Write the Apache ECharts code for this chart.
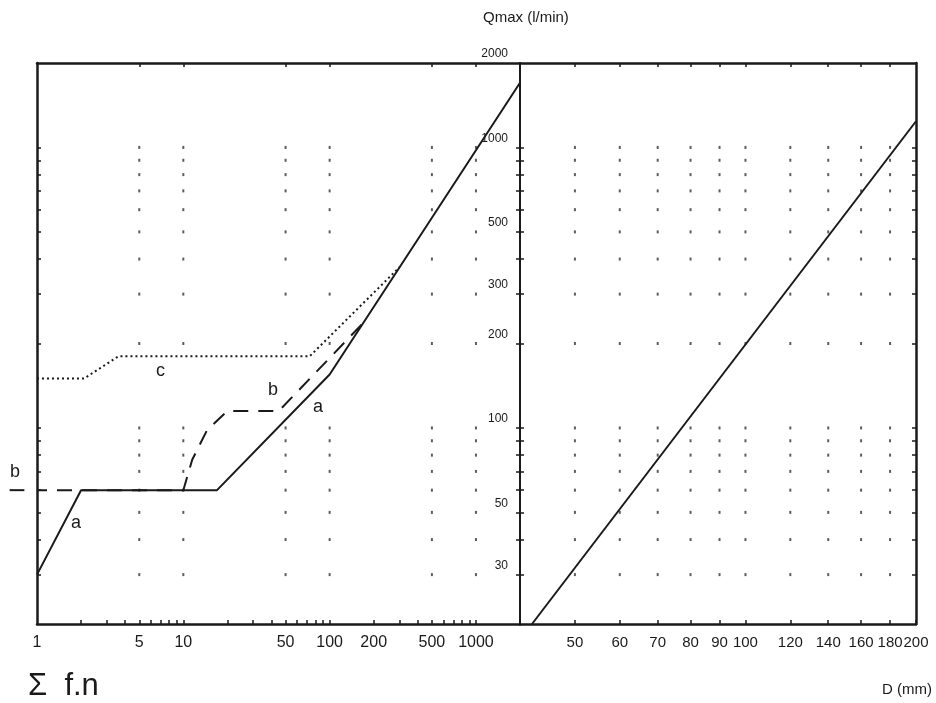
<!DOCTYPE html>
<html>
<head>
<meta charset="utf-8">
<script src="https://cdn.jsdelivr.net/npm/echarts@6/dist/echarts.min.js"></script>
<style>
  html, body { margin: 0; padding: 0; background: #fff; }
  #main { width: 936px; height: 703px; }
</style>
</head>
<body>
<div id="main"></div>
<script>
// left panel: sum f.n (log) vs Qmax (log)
var fnLabels = [1, 5, 10, 50, 100, 200, 500, 1000];
var fnTicks = [2, 3, 4, 5, 6, 7, 8, 9, 10, 20, 30, 40, 50, 60, 70, 80, 90, 100, 200, 300, 400, 500, 600, 700, 800, 900, 1000];
var fnGridCols = [5, 10, 50, 100, 500, 1000];
// right panel: D (mm)
var dLabels = [50, 60, 70, 80, 90, 100, 120, 140, 160, 180, 200];
var dGridCols = [50, 60, 70, 80, 90, 100, 120, 140, 160, 180];
// Qmax axis
var qLabels = [30, 50, 100, 200, 300, 500, 1000, 2000];
var qTicks = [30, 40, 50, 60, 70, 80, 90, 100, 200, 300, 400, 500, 600, 700, 800, 900, 1000];

// curves
var curveA = [[1, 30], [2, 60], [17, 60], [100, 155], [2000, 1700]];
var curveB = [[1, 60], [10, 60], [11.5, 77], [14.5, 98], [20, 115], [45, 115], [170, 237]];
var keyB = [[0.65, 60], [0.82, 60]]; // short dash left of the axis, next to label b
var curveC = [[1, 150], [2.1, 150], [3.6, 180], [73, 180], [300, 374]];
var curveD = [[42, 20], [200, 1240]];

var FONT = "Liberation Sans, Arial, sans-serif";
var INK = "#1a1a1a";

function dots(xs, ys) {
  var out = [];
  xs.forEach(function (x) {
    ys.forEach(function (y) { out.push([x, y]); });
  });
  return out;
}
function plain(v) { return String(Math.round(v)); }

var myChart = echarts.init(document.getElementById("main"));

function frameAxis(opt) {
  return Object.assign({
    type: "log",
    logBase: 10,
    axisLine: { show: true, onZero: false, lineStyle: { color: INK, width: 2.5 } },
    axisTick: { show: false },
    axisLabel: { show: false },
    splitLine: { show: false },
    minorTick: { show: false },
    minorSplitLine: { show: false }
  }, opt);
}
function ticks(vals) {
  return { show: true, inside: true, length: 4, customValues: vals, lineStyle: { color: INK, width: 1.5 } };
}

var option = {
  animation: false,
  backgroundColor: "#fff",
  grid: [
    { left: 37, top: 63, width: 483, height: 561 },
    { left: 520, top: 63, width: 396, height: 561 }
  ],
  xAxis: [
    frameAxis({
      gridIndex: 0, position: "bottom", min: 1, max: 2000,
      axisTick: ticks(fnTicks),
      axisLabel: { show: true, customValues: fnLabels, formatter: plain, margin: 11, fontSize: 16, fontFamily: FONT, color: INK }
    }),
    frameAxis({ gridIndex: 0, position: "top", min: 1, max: 2000, axisTick: ticks(fnGridCols) }),
    frameAxis({
      gridIndex: 1, position: "bottom", min: 40, max: 200,
      axisTick: ticks(dLabels),
      axisLabel: { show: true, customValues: dLabels, formatter: plain, margin: 11, fontSize: 15, fontFamily: FONT, color: INK }
    }),
    frameAxis({ gridIndex: 1, position: "top", min: 40, max: 200, axisTick: ticks(dGridCols) })
  ],
  yAxis: [
    frameAxis({ gridIndex: 0, position: "left", min: 20, max: 2000, axisTick: ticks(qTicks) }),
    frameAxis({
      gridIndex: 0, position: "right", min: 20, max: 2000,
      axisLine: { show: true, onZero: false, lineStyle: { color: INK, width: 2 } },
      axisTick: ticks(qTicks),
      axisLabel: {
        show: true, inside: true, customValues: qLabels, formatter: plain, margin: 12,
        verticalAlign: "bottom", padding: [0, 0, 3, 0],
        fontSize: 12, fontFamily: FONT, color: INK
      }
    }),
    frameAxis({
      gridIndex: 1, position: "left", min: 20, max: 2000,
      axisLine: { show: true, onZero: false, lineStyle: { color: INK, width: 2 } },
      axisTick: ticks(qTicks)
    }),
    frameAxis({ gridIndex: 1, position: "right", min: 20, max: 2000, axisTick: ticks(qTicks) })
  ],
  series: [
    {
      name: "grid-left", type: "scatter", xAxisIndex: 0, yAxisIndex: 0,
      data: dots(fnGridCols, qTicks), symbol: "rect", symbolSize: [2, 3],
      itemStyle: { color: "#333" }, silent: true
    },
    {
      name: "grid-right", type: "scatter", xAxisIndex: 2, yAxisIndex: 2,
      data: dots(dGridCols, qTicks), symbol: "rect", symbolSize: [2, 3],
      itemStyle: { color: "#333" }, silent: true
    },
    {
      name: "c", type: "line", xAxisIndex: 0, yAxisIndex: 0, data: curveC,
      showSymbol: false, lineStyle: { color: INK, width: 2, type: [2, 3] }
    },
    {
      name: "b", type: "line", xAxisIndex: 0, yAxisIndex: 0, data: curveB,
      showSymbol: false, lineStyle: { color: INK, width: 2, type: [15, 10], dashOffset: 5 }
    },
    {
      name: "a", type: "line", xAxisIndex: 0, yAxisIndex: 0, data: curveA,
      showSymbol: false, lineStyle: { color: INK, width: 2 }
    },
    {
      name: "D", type: "line", xAxisIndex: 2, yAxisIndex: 2, data: curveD,
      showSymbol: false, lineStyle: { color: INK, width: 2 }
    }
  ],
  graphic: [
    { type: "text", left: 483, top: 10, style: { text: "Qmax (l/min)", font: "15px " + FONT, fill: INK } },
    { type: "text", left: 28, top: 671, style: { text: "\u03a3  f.n", font: "31px " + FONT, fill: INK } },
    { type: "text", right: 4, top: 682, style: { text: "D (mm)", font: "15px " + FONT, fill: INK } },
    { type: "text", left: 10, top: 463, style: { text: "b", font: "18px " + FONT, fill: INK } },
    { type: "text", left: 71, top: 514, style: { text: "a", font: "18px " + FONT, fill: INK } },
    { type: "text", left: 156, top: 362, style: { text: "c", font: "18px " + FONT, fill: INK } },
    { type: "text", left: 268, top: 381, style: { text: "b", font: "18px " + FONT, fill: INK } },
    { type: "text", left: 313, top: 398, style: { text: "a", font: "18px " + FONT, fill: INK } }
  ]
};

myChart.setOption(option);

// key dash for b, placed through the axis scales (it sits outside the plot area)
var p0 = myChart.convertToPixel({ xAxisIndex: 0, yAxisIndex: 0 }, keyB[0]);
var p1 = myChart.convertToPixel({ xAxisIndex: 0, yAxisIndex: 0 }, keyB[1]);
myChart.setOption({
  graphic: option.graphic.concat([{
    type: "line",
    shape: { x1: p0[0], y1: p0[1], x2: p1[0], y2: p1[1] },
    style: { stroke: INK, lineWidth: 2 }
  }])
});
</script>
</body>
</html>
